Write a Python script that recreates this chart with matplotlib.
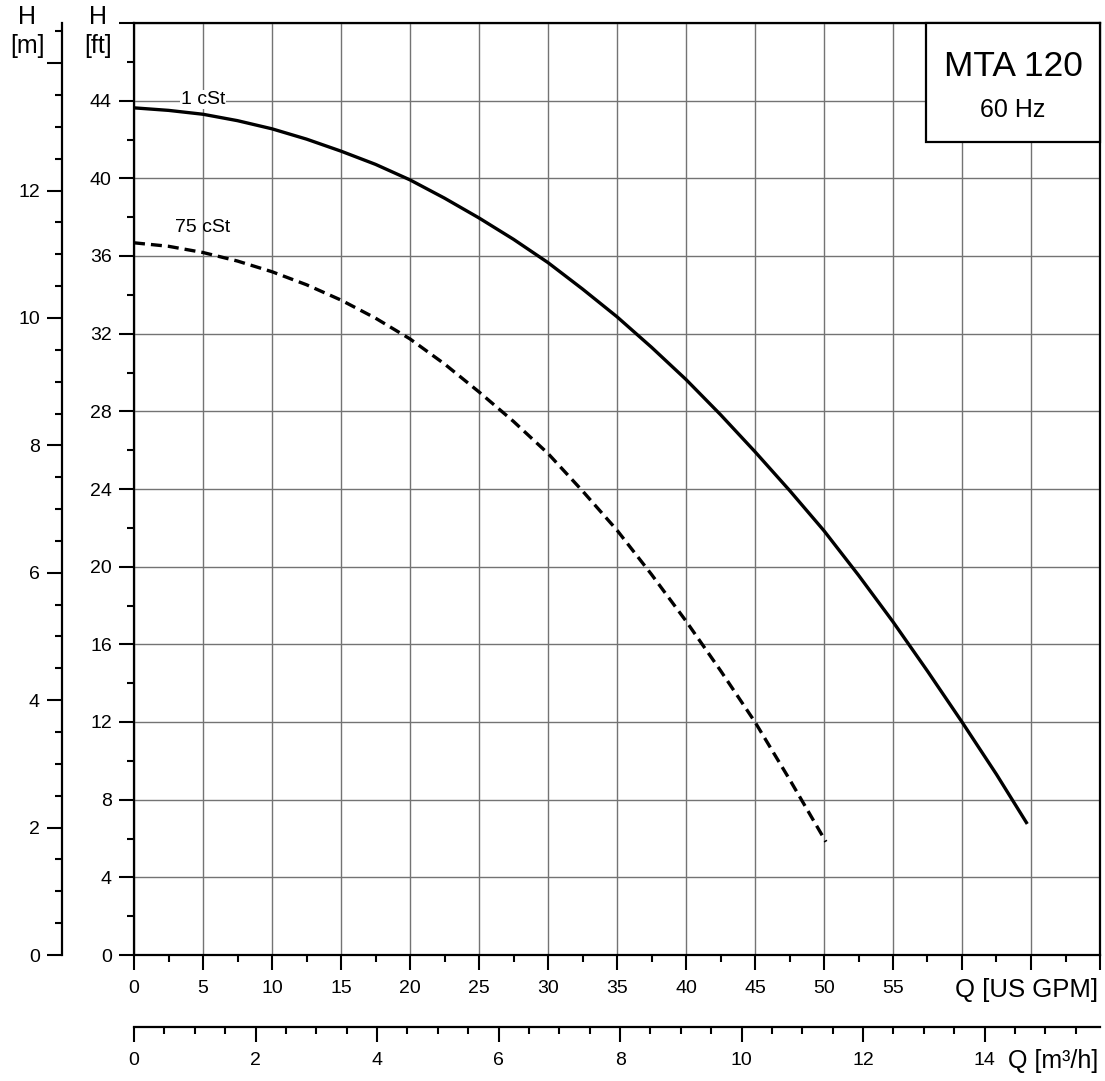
import matplotlib
matplotlib.use("Agg")
import matplotlib.pyplot as plt
from matplotlib.ticker import MultipleLocator

plt.rcParams['font.family'] = ['Liberation Sans', 'DejaVu Sans']

# ---- data (Q in US GPM, H in ft) ----
q_1cst = [0, 2.5, 5, 7.5, 10, 12.5, 15, 17.5, 20, 22.5, 25, 27.5, 30, 32.5, 35,
          37.5, 40, 42.5, 45, 47.5, 50, 52.5, 55, 57.5, 60, 62.5, 64.73]
h_1cst = [43.63, 43.5, 43.3, 42.97, 42.55, 42.02, 41.40, 40.72, 39.92, 38.98, 37.96,
          36.86, 35.66, 34.30, 32.87, 31.3, 29.64, 27.83, 25.92, 23.93, 21.85, 19.56,
          17.16, 14.62, 12.0, 9.3, 6.75]
q_75cst = [0, 2.5, 5, 7.5, 10, 12.5, 15, 17.5, 20, 22.5, 25, 27.5, 30, 32.5, 35,
           37.5, 40, 42.5, 45, 47.5, 50.14]
h_75cst = [36.68, 36.5, 36.18, 35.74, 35.19, 34.52, 33.73, 32.8, 31.73, 30.44, 29.0,
           27.48, 25.83, 23.9, 21.88, 19.6, 17.2, 14.65, 12.0, 9.05, 5.83]

gpm_ticks = [0, 5, 10, 15, 20, 25, 30, 35, 40, 45, 50, 55, 60, 65, 70]
gpm_labels = ['0', '5', '10', '15', '20', '25', '30', '35', '40', '45', '50', '55', '', '', '']
ft_ticks = [0, 4, 8, 12, 16, 20, 24, 28, 32, 36, 40, 44, 48]
ft_labels = ['0', '4', '8', '12', '16', '20', '24', '28', '32', '36', '40', '44', '']
m_ticks = [0, 2, 4, 6, 8, 10, 12, 14]
m_labels = ['0', '2', '4', '6', '8', '10', '12', '']
m3h_ticks = [0, 2, 4, 6, 8, 10, 12, 14]
m3h_labels = ['0', '2', '4', '6', '8', '10', '12', '14']

GPM_PER_M3H = 4.40287
FT_PER_M = 3.28084
XMAX, YMAX = 70, 48

W, H = 1105, 1081
fig = plt.figure(figsize=(W / 100, H / 100), dpi=100)

def fx(px):
    return px / W

def fy(py):
    return 1 - py / H

L, R, T, B = 134, 1100, 23, 955
ax = fig.add_axes([fx(L), fy(B), fx(R - L), fy(T) - fy(B)])
ax.set_xlim(0, XMAX)
ax.set_ylim(0, YMAX)

tick_kw = dict(direction='out', width=1.5, colors='black', labelsize=14)
ax.set_xticks(gpm_ticks)
ax.set_xticklabels(gpm_labels)
ax.set_yticks(ft_ticks)
ax.set_yticklabels(ft_labels)
ax.xaxis.set_minor_locator(MultipleLocator(2.5))
ax.yaxis.set_minor_locator(MultipleLocator(2))
ax.tick_params(axis='both', which='major', length=11, **tick_kw)
ax.tick_params(axis='both', which='minor', length=5, width=1.5, direction='out')
ax.tick_params(axis='x', which='major', pad=7)
ax.tick_params(axis='y', which='major', pad=5)
for s in ax.spines.values():
    s.set_linewidth(1.6)

ax.grid(True, which='major', color='#737373', linewidth=1.0)
ax.set_axisbelow(True)

ax.plot(q_1cst, h_1cst, color='black', linewidth=2.4, solid_capstyle='butt',
        solid_joinstyle='round')
ax.plot(q_75cst, h_75cst, color='black', linewidth=2.4, linestyle=(0, (3.3, 1.8)))

ax.text(5, 44.05, '1 cSt', ha='center', va='center', fontsize=14,
        bbox=dict(facecolor='white', edgecolor='none', pad=0.5))
ax.text(5, 37.45, '75 cSt', ha='center', va='center', fontsize=14)

# title box
box_l, box_r, box_t, box_b = 926, 1100, 23, 142
fig.patches.append(plt.Rectangle((fx(box_l), fy(box_b)), fx(box_r - box_l), fy(box_t) - fy(box_b),
                                 transform=fig.transFigure, facecolor='white',
                                 edgecolor='black', linewidth=1.6, zorder=5))
fig.text(fx(1013), fy(66), 'MTA 120', ha='center', va='center', fontsize=25.5, zorder=6)
fig.text(fx(1013), fy(110), '60 Hz', ha='center', va='center', fontsize=18, zorder=6)

# Q label
fig.text(fx(1098), fy(990), 'Q [US GPM]', ha='right', va='center', fontsize=18.5)

# m axis
axm = fig.add_axes([fx(62), fy(B), 0.0001, fy(T) - fy(B)])
axm.set_ylim(0, YMAX / FT_PER_M)
axm.set_xticks([])
for k in ['top', 'right', 'bottom']:
    axm.spines[k].set_visible(False)
axm.spines['left'].set_linewidth(1.6)
axm.patch.set_visible(False)
axm.set_yticks(m_ticks)
axm.set_yticklabels(m_labels)
axm.yaxis.set_minor_locator(MultipleLocator(0.5))
axm.tick_params(axis='y', which='major', length=11, pad=5, **tick_kw)
axm.tick_params(axis='y', which='minor', length=5, width=1.5, direction='out')

# m3/h axis
axq = fig.add_axes([fx(L), fy(1027), fx(R - L), 0.0001])
axq.set_xlim(0, XMAX / GPM_PER_M3H)
axq.set_yticks([])
for k in ['top', 'right', 'left']:
    axq.spines[k].set_visible(False)
axq.spines['bottom'].set_linewidth(1.6)
axq.patch.set_visible(False)
axq.set_xticks(m3h_ticks)
axq.set_xticklabels(m3h_labels)
axq.xaxis.set_minor_locator(MultipleLocator(0.5))
axq.tick_params(axis='x', which='major', length=11, pad=7, **tick_kw)
axq.tick_params(axis='x', which='minor', length=5, width=1.5, direction='out')
fig.text(fx(1098), fy(1061), 'Q [m³/h]', ha='right', va='center', fontsize=18)

# axis headers
fig.text(fx(27), fy(17), 'H', ha='center', va='center', fontsize=18)
fig.text(fx(27), fy(46), '[m]', ha='center', va='center', fontsize=18)
fig.text(fx(98), fy(17), 'H', ha='center', va='center', fontsize=18)
fig.text(fx(98), fy(46), '[ft]', ha='center', va='center', fontsize=18)

fig.savefig('out.png', dpi=100)
